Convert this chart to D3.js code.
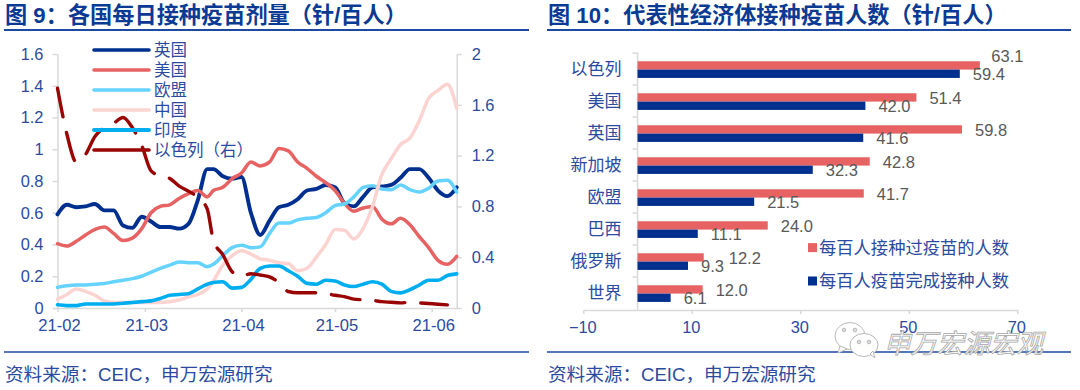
<!DOCTYPE html>
<html>
<head>
<meta charset="utf-8">
<script src="https://cdnjs.cloudflare.com/ajax/libs/d3/7.8.5/d3.min.js"></script>
<style>
body { margin: 0; background: #fff; }
svg { display: block; }
text { font-family: "Liberation Sans", "Noto Sans CJK SC", sans-serif; }
</style>
</head>
<body>
<div id="d3"></div>
<script>
// left chart data
var days = ["02-01","02-04","02-07","02-10","02-13","02-16","02-19","02-22","02-25","02-28",
    "03-03","03-06","03-09","03-12","03-15","03-18","03-21","03-23","03-26","03-29",
    "04-01","04-04","04-07","04-10","04-13","04-16","04-19","04-22","04-25","04-28",
    "05-01","05-04","05-07","05-10","05-13","05-16","05-19","05-22","05-25","05-28",
    "05-31","06-03","06-06","06-09"];

var uk = [.59,.65,.635,.64,.655,.615,.615,.52,.505,.575,.545,.51,.51,.50,.53,.68,.875,.875,.83,.815,.825,.60,.46,.55,.635,.65,.685,.74,.75,.775,.76,.66,.64,.70,.76,.765,.775,.82,.875,.875,.82,.74,.705,.76];
var us = [.405,.39,.42,.46,.495,.51,.47,.425,.44,.50,.60,.64,.65,.69,.72,.74,.70,.74,.76,.815,.85,.92,.895,.92,1.005,.99,.92,.88,.83,.79,.74,.66,.61,.63,.64,.56,.53,.565,.525,.45,.38,.30,.275,.325];
var eu = [.13,.14,.145,.145,.15,.155,.165,.175,.185,.20,.225,.25,.27,.29,.285,.285,.26,.275,.33,.38,.395,.38,.385,.47,.535,.535,.555,.565,.57,.60,.645,.655,.70,.76,.77,.75,.745,.775,.745,.73,.755,.80,.805,.73];
var china = [.055,.085,.12,.105,.08,.045,.035,.035,.035,.035,.035,.035,.04,.05,.07,.085,.12,.17,.27,.33,.36,.34,.31,.30,.285,.28,.235,.25,.32,.40,.495,.49,.435,.50,.64,.84,.94,1.03,1.07,1.18,1.32,1.37,1.41,1.26];
var india = [.02,.015,.015,.025,.025,.025,.025,.03,.035,.04,.045,.06,.08,.085,.09,.12,.15,.16,.165,.125,.13,.18,.25,.265,.265,.235,.20,.155,.15,.175,.17,.145,.135,.15,.165,.15,.105,.095,.115,.145,.175,.175,.205,.215];
var israel = [1.73,1.37,1.15,1.21,1.35,1.42,1.455,1.50,1.42,1.28,1.08,1.04,1.02,.96,.92,.87,.78,.53,.42,.285,.25,.27,.26,.245,.20,.13,.12,.12,.12,.115,.10,.09,.07,.065,.06,.05,.045,.04,.045,.04,.035,.03,.025,null];

var lineNames = ["英国","美国","欧盟","中国","印度","以色列（右）"];
var leftTicks = [0,.2,.4,.6,.8,1,1.2,1.4,1.6];
var rightTicks = [0,.4,.8,1.2,1.6,2];

// right chart data
var countries = ["以色列","美国","英国","新加坡","欧盟","巴西","俄罗斯","世界"];
var dosed = [63.1,51.4,59.8,42.8,41.7,24.0,12.2,12.0];
var full = [59.4,42.0,41.6,32.3,21.5,11.1,9.3,6.1];
var barNames = ["每百人接种过疫苗的人数","每百人疫苗完成接种人数"];
var xTicksBar = [-10,10,30,50,70];

var blueText = "#2c4b9f", titleBlue = "#0b3a94", ruleBlue = "#1c4aa3", axisGrey = "#d9d9d9";
var colors = {uk:"#00308f", us:"#e76262", eu:"#66d3ff", china:"#fbd3d1", india:"#00aeef", israel:"#990505"};

var svg = d3.select("#d3").append("svg").attr("width",1080).attr("height",390);

function styleAxis(g, size) {
    g.select(".domain").attr("stroke",axisGrey).attr("stroke-width",1.5);
    g.selectAll(".tick line").attr("stroke",axisGrey).attr("stroke-width",1.5);
    g.selectAll(".tick text").attr("fill",blueText).style("font-size",size+"px")
        .style("font-family",'"Liberation Sans", "Noto Sans CJK SC", sans-serif');
}

// panel title, rules and source line
function frame(x0, x1, title) {
    svg.append("text").attr("x",x0+1).attr("y",23).text(title)
        .attr("fill",titleBlue).style("font-size","22.2px").style("font-weight","bold");
    svg.append("line").attr("x1",x0).attr("x2",x1).attr("y1",30).attr("y2",30)
        .attr("stroke",ruleBlue).attr("stroke-width",2);
    svg.append("line").attr("x1",x0).attr("x2",x1).attr("y1",352).attr("y2",352)
        .attr("stroke",ruleBlue).attr("stroke-width",1.6);
    svg.append("text").attr("x",x0+1).attr("y",381).text("资料来源：CEIC，申万宏源研究")
        .attr("fill",blueText).style("font-size","18.6px");
}
frame(4,529,"图 9：各国每日接种疫苗剂量（针/百人）");
frame(547,1071,"图 10：代表性经济体接种疫苗人数（针/百人）");

// ---- left chart
var parseDay = d3.timeParse("%Y-%m-%d");
var dates = days.map(function(d){ return parseDay("2021-"+d); });

var x = d3.scaleTime().domain([dates[0],dates[dates.length-1]]).range([57.5,456.7]);
var yL = d3.scaleLinear().domain([0,1.6]).range([308,54]);
var yR = d3.scaleLinear().domain([0,2]).range([308,54]);

var gxL = svg.append("g").attr("transform","translate(0,308)")
    .call(d3.axisBottom(x).ticks(d3.timeMonth.every(1)).tickFormat(d3.timeFormat("%y-%m")).tickSize(4).tickSizeOuter(0).tickPadding(7));
styleAxis(gxL,16.6);
gxL.selectAll(".tick text").attr("dx",1.5);

var gyL = svg.append("g").attr("transform","translate(57.5,0)")
    .call(d3.axisLeft(yL).tickValues(leftTicks).tickFormat(d3.format("~g")).tickSize(5).tickSizeOuter(0).tickPadding(9));
styleAxis(gyL,16.4);

var gyR = svg.append("g").attr("transform","translate(456.7,0)")
    .call(d3.axisRight(yR).tickValues(rightTicks).tickFormat(d3.format("~g")).tickSize(5).tickSizeOuter(0).tickPadding(10));
styleAxis(gyR,16.4);

function drawLine(values, y, color, w, dash) {
    var line = d3.line()
        .defined(function(d){ return d !== null; })
        .x(function(d,i){ return x(dates[i]); })
        .y(function(d){ return y(d); })
        .curve(d3.curveMonotoneX);
    var p = svg.append("path").attr("d",line(values))
        .attr("fill","none").attr("stroke",color).attr("stroke-width",w)
        .attr("stroke-linejoin","round").attr("stroke-linecap","round");
    if (dash) p.attr("stroke-dasharray",dash);
}
drawLine(uk,yL,colors.uk,3.9);
drawLine(us,yL,colors.us,3.5);
drawLine(eu,yL,colors.eu,3.5);
drawLine(china,yL,colors.china,3.5);
drawLine(india,yL,colors.india,3.6);
drawLine(israel,yR,colors.israel,3.4,"29,16");

// left legend
var legendY = d3.scalePoint().domain(lineNames).range([50,150]);
var lineColors = [colors.uk,colors.us,colors.eu,colors.china,colors.india,colors.israel];
lineNames.forEach(function(n,i){
    svg.append("line").attr("x1",94).attr("x2",149).attr("y1",legendY(n)).attr("y2",legendY(n))
        .attr("stroke",lineColors[i]).attr("stroke-width",i==4 ? 4 : 3.6).attr("stroke-linecap","round");
    svg.append("text").attr("x",154).attr("y",legendY(n)+6).text(n)
        .attr("fill",blueText).style("font-size","16.5px");
});

// ---- right chart
var xB = d3.scaleLinear().domain([-10,70]).range([583.3,1017.3]);
var yB = d3.scaleBand().domain(countries).range([53.6,309.6]);
var yInner = d3.scaleBand().domain(["dosed","full"]).range([0,yB.bandwidth()]).paddingInner(0).paddingOuter(.92);

var gxB = svg.append("g").attr("transform","translate(0,310)")
    .call(d3.axisBottom(xB).tickValues(xTicksBar).tickSize(4).tickSizeOuter(0).tickPadding(7));
styleAxis(gxB,16.4);
gxB.selectAll(".tick text").attr("dx",-1);

var gyB = svg.append("g").attr("transform","translate("+xB(0)+",0)")
    .call(d3.axisLeft(yB).tickSize(0).tickPadding(16));
styleAxis(gyB,17);
gyB.select(".domain").attr("d","M0,53V310");
// ticks sit between the bands
gyB.selectAll(".sep").data(countries).enter().append("line").attr("class","sep")
    .attr("x1",-5).attr("x2",0)
    .attr("y1",function(d){ return yB(d)-.6; }).attr("y2",function(d){ return yB(d)-.6; })
    .attr("stroke",axisGrey).attr("stroke-width",1.5);

function drawBars(values, key, color) {
    svg.append("g").selectAll("rect").data(values).enter().append("rect")
        .attr("x",xB(0))
        .attr("y",function(d,i){ return yB(countries[i])+yInner(key); })
        .attr("width",function(d){ return xB(d)-xB(0); })
        .attr("height",yInner.bandwidth())
        .attr("fill",color);
}
drawBars(dosed,"dosed",colors.us);
drawBars(full,"full",colors.uk);

function drawLabels(values, key, nudge) {
    svg.append("g").selectAll("text").data(values).enter().append("text")
        .attr("x",function(d,i){ return xB(d)+13+(nudge[i] ? nudge[i][0] : 0); })
        .attr("y",function(d,i){ return yB(countries[i])+yInner(key)+yInner.bandwidth()/2+(nudge[i] ? nudge[i][1] : 0)+6.5; })
        .text(function(d){ return d3.format(".1f")(d); })
        .attr("fill","#595959").style("font-size","16.5px");
}
// 63.1 and 12.2 were moved by hand in the original
drawLabels(dosed,"dosed",{0:[-1.5,-10],6:[12,0]});
drawLabels(full,"full",{});

// right legend
var barColors = [colors.us,colors.uk];
barNames.forEach(function(n,i){
    var ly = i==0 ? 247.6 : 281;
    svg.append("rect").attr("x",808).attr("y",ly-4.5).attr("width",9).attr("height",9).attr("fill",barColors[i]);
    svg.append("text").attr("x",819).attr("y",ly+6).text(n)
        .attr("fill",blueText).style("font-size","17.3px");
});

// ---- watermark
var wm = svg.append("g").attr("fill","#fff").attr("stroke","#b9b9b9").attr("stroke-width",1);
wm.append("ellipse").attr("cx",850).attr("cy",336).attr("rx",15).attr("ry",13.5);
wm.append("path").attr("d","M840,346L838,353L847,349Z");
wm.append("ellipse").attr("cx",864).attr("cy",345).attr("rx",14).attr("ry",11.5);
wm.append("path").attr("d","M870,354L875,358L873,351Z");
[[844,330],[855,330],[859,342],[869,342]].forEach(function(c){
    wm.append("circle").attr("cx",c[0]).attr("cy",c[1]).attr("r",1.8).attr("fill","#ddd");
});
svg.append("text").attr("x",884).attr("y",353).text("申万宏源宏观")
    .attr("fill","#fff").attr("stroke","#a8a8a8").attr("stroke-width",.8)
    .style("font-size","26.5px").style("font-style","italic");
</script>
</body>
</html>
